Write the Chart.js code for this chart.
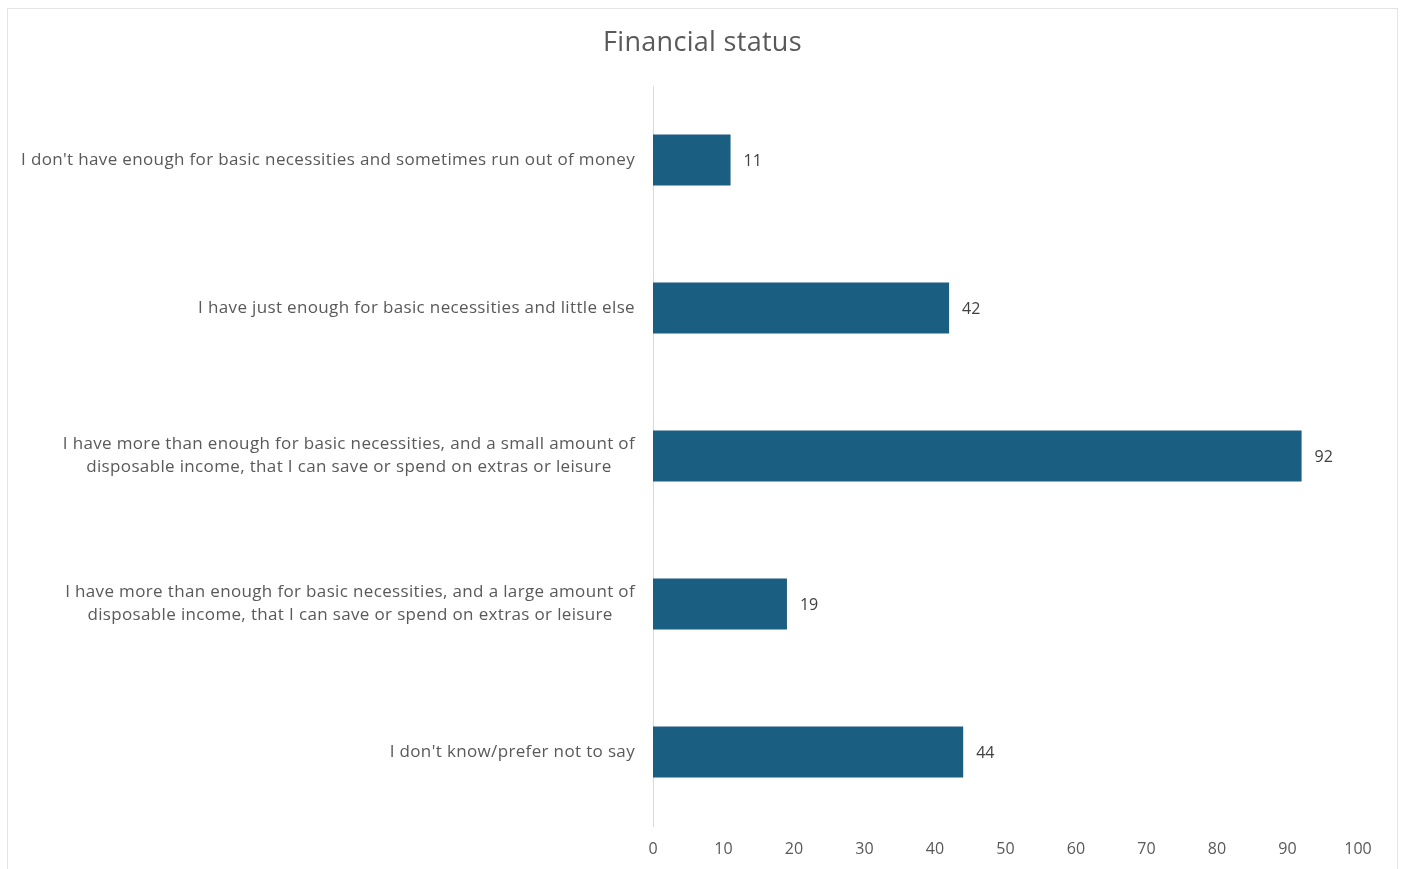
<!DOCTYPE html>
<html lang="en">
<head>
    <meta charset="UTF-8">
    <title>Financial status</title>
    <style>
        html, body { margin: 0; padding: 0; background: #fff; }
        #wrap { width: 1405px; height: 869px; }
    </style>
</head>
<body>
    <div id="wrap"><canvas id="myChart" width="1405" height="869"></canvas></div>

    <script src="https://cdn.jsdelivr.net/npm/chart.js"></script>
    <script>
        // answers, one entry per line of the label
        const categories = [
            ["I don't have enough for basic necessities and sometimes run out of money"],
            ["I have just enough for basic necessities and little else"],
            ["I have more than enough for basic necessities, and a small amount of", "disposable income, that I can save or spend on extras or leisure"],
            ["I have more than enough for basic necessities, and a large amount of", "disposable income, that I can save or spend on extras or leisure"],
            ["I don't know/prefer not to say"]
        ];
        const counts = [11, 42, 92, 19, 44];
        const xTicks = [0, 10, 20, 30, 40, 50, 60, 70, 80, 90, 100];

        const family = '"Open Sans", "Liberation Sans", sans-serif';
        const textGrey = '#595959';

        // frame around the whole chart + title centred on the canvas
        const frame = {
            id: 'frame',
            beforeDraw(chart) {
                const ctx = chart.ctx;
                ctx.save();
                ctx.strokeStyle = '#e3e3e3';
                ctx.lineWidth = 1;
                ctx.strokeRect(7.5, 8.5, 1390, 900);
                ctx.font = '27px ' + family;
                ctx.letterSpacing = '0.3px';
                ctx.fillStyle = textGrey;
                ctx.textAlign = 'center';
                ctx.textBaseline = 'middle';
                ctx.fillText('Financial status', chart.width / 2, 43);
                ctx.restore();
            }
        };

        // category labels: block right aligned, lines centred inside the block
        const catLabels = {
            id: 'catLabels',
            afterDraw(chart) {
                const ctx = chart.ctx;
                const y = chart.scales.y;
                const right = chart.chartArea.left - 18;
                ctx.save();
                ctx.font = '17px ' + family;
                ctx.letterSpacing = '0.35px';
                ctx.fillStyle = textGrey;
                ctx.textBaseline = 'middle';
                ctx.textAlign = 'center';
                categories.forEach((lines, i) => {
                    const w = Math.max(...lines.map(l => ctx.measureText(l).width));
                    const cx = right - w / 2;
                    const cy = y.getPixelForValue(i);
                    const lh = 23;
                    lines.forEach((l, j) => {
                        ctx.fillText(l, cx, cy + (j - (lines.length - 1) / 2) * lh);
                    });
                });
                ctx.restore();
            }
        };

        // value at the end of each bar
        const valueLabels = {
            id: 'valueLabels',
            afterDatasetsDraw(chart) {
                const ctx = chart.ctx;
                const meta = chart.getDatasetMeta(0);
                ctx.save();
                ctx.font = '16px ' + family;
                ctx.fillStyle = '#404040';
                ctx.textBaseline = 'middle';
                ctx.textAlign = 'left';
                meta.data.forEach((bar, i) => {
                    ctx.fillText(String(counts[i]), bar.x + 13, bar.y + 1);
                });
                ctx.restore();
            }
        };

        const data = {
            labels: categories,
            datasets: [{
                data: counts,
                backgroundColor: '#1a5e81',
                borderWidth: 0,
                barPercentage: 0.345,
                categoryPercentage: 1
            }]
        };

        const config = {
            type: 'bar',
            data,
            options: {
                indexAxis: 'y',
                responsive: false,
                animation: false,
                layout: {
                    padding: { left: 0, right: 47, top: 86, bottom: 0 }
                },
                plugins: {
                    legend: { display: false },
                    tooltip: { enabled: false },
                    title: { display: false }
                },
                scales: {
                    x: {
                        min: 0,
                        max: 100,
                        afterBuildTicks: s => { s.ticks = xTicks.map(v => ({ value: v })); },
                        afterFit: s => { s.height = 43; },
                        grid: { display: false, drawTicks: false },
                        border: { display: false },
                        ticks: {
                            color: textGrey,
                            padding: 14,
                            maxRotation: 0,
                            font: { family: family, size: 16 }
                        }
                    },
                    y: {
                        afterFit: s => { s.width = 653; },
                        grid: { display: false, drawTicks: false },
                        border: { display: true, color: '#d9d9d9', width: 1 },
                        ticks: { display: false }
                    }
                }
            },
            plugins: [frame, catLabels, valueLabels]
        };

        const myChart = new Chart(document.getElementById('myChart'), config);
    </script>
</body>
</html>
